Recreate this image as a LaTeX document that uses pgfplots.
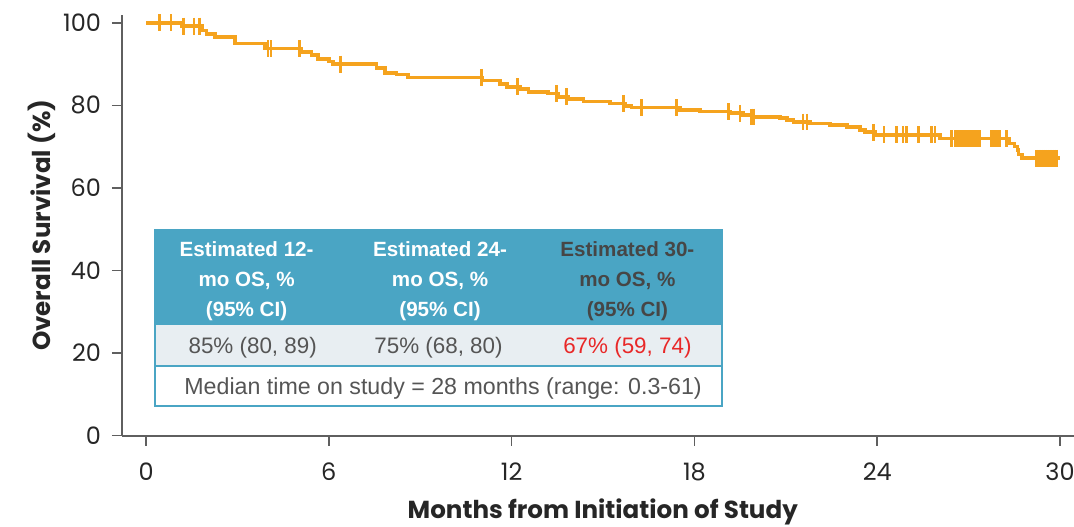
\documentclass[border=0pt]{standalone}
\usepackage{fontspec}
\setmainfont{Liberation Sans}
\newfontfamily\pop{Poppins}
\usepackage{pgfplots}
\pgfplotsset{compat=1.18}
\definecolor{km}{RGB}{245,163,30}
\definecolor{tblteal}{RGB}{74,165,196}
\definecolor{rowgray}{RGB}{232,238,242}
\definecolor{axgray}{RGB}{95,95,95}
\definecolor{redtxt}{RGB}{232,40,40}
\definecolor{hdrdark}{RGB}{70,70,70}
\definecolor{bodytxt}{RGB}{85,85,85}
\pgfplotstableread{
x y
0 100
1.17 99.2
1.83 98.1
1.99 97.3
2.26 96.6
2.92 95.0
3.91 93.8
5.10 93.0
5.43 92.2
5.64 91.2
6.00 90.6
6.14 90.0
7.57 89.0
7.84 87.9
8.22 87.5
8.60 86.8
11.05 86.0
11.62 85.2
11.84 84.5
12.28 83.9
12.55 83.3
13.20 82.9
13.54 82.1
13.86 81.5
14.36 80.9
15.23 80.5
15.72 79.9
15.94 79.5
17.53 78.9
18.19 78.5
19.16 78.1
19.60 77.7
19.87 77.2
20.81 76.9
21.03 76.5
21.25 76.0
21.80 75.6
22.45 75.2
23.00 74.7
23.44 74.0
23.60 73.5
23.92 72.9
26.06 72.0
28.34 70.8
28.50 70.0
28.60 69.2
28.64 68.1
28.75 67.2
30.00 67.2
}\kmcurve
\pgfplotstableread{
x y
0.44 100
0.82 100
1.22 99.2
1.58 99.2
1.75 99.2
4.00 93.8
4.10 93.8
5.03 93.8
6.39 90.0
11.02 86.8
12.19 84.5
13.48 82.9
13.81 82.1
15.67 80.5
16.27 79.5
17.42 79.5
19.11 78.5
19.49 78.1
19.88 77.2
19.95 77.2
21.57 76.0
21.70 76.0
23.87 73.5
24.22 72.9
24.64 72.9
24.85 72.9
24.97 72.9
25.35 72.9
25.79 72.9
25.90 72.9
26.44 72.0
26.55 72.0
26.61 72.0
26.67 72.0
26.73 72.0
26.79 72.0
26.85 72.0
26.91 72.0
26.97 72.0
27.03 72.0
27.09 72.0
27.15 72.0
27.21 72.0
27.27 72.0
27.33 72.0
27.37 72.0
27.75 72.0
27.82 72.0
27.89 72.0
27.96 72.0
28.03 72.0
28.25 72.0
29.23 67.2
29.29 67.2
29.35 67.2
29.41 67.2
29.47 67.2
29.53 67.2
29.59 67.2
29.65 67.2
29.71 67.2
29.77 67.2
29.83 67.2
29.89 67.2
}\kmcens
\begin{document}
\begin{tikzpicture}
\useasboundingbox (-61pt,-45.2pt) rectangle (476pt,217.8pt);
\begin{axis}[
  at={(0,0)}, anchor=south west,
  scale only axis, width=476pt, height=210.3pt,
  xmin=-0.79, xmax=30.46, ymin=0, ymax=101.9,
  clip=false,
  axis lines=left,
  axis line style={-, draw=axgray, line width=1pt},
  xtick={0,6,12,18,24,30},
  xticklabels={0,6,12,18,24,30},
  ytick={0,20,40,60,80,100},
  yticklabels={0,20,40,60,80,100},
  tick align=outside, major tick length=5pt,
  tick style={draw=axgray, line width=0.8pt},
  ticklabel style={font=\pop\fontsize{12}{13}\selectfont, text=black!85},
  xticklabel style={anchor=center, yshift=-13pt},
  yticklabel style={anchor=east, xshift=-2pt},
  xlabel={Months from Initiation of Study},
  ylabel={Overall Survival (\%)},
  xlabel style={font=\pop\bfseries\fontsize{12.3}{13}\selectfont, text=black!85, at={(axis description cs:0.505,-0.181)}, anchor=center},
  ylabel style={font=\pop\bfseries\fontsize{12.3}{13}\selectfont, text=black!85, at={(axis description cs:-0.084,0.5)}, anchor=center},
]
\addplot[const plot, km, line width=1.8pt] table[x=x,y=y] {\kmcurve};
\addplot[only marks, mark=|, mark size=4.2pt, km, mark options={line width=1.3pt}] table[x=x,y=y] {\kmcens};
\fill[tblteal] (axis cs:0.30,26.8) rectangle (axis cs:18.9,49.8);
\fill[rowgray] (axis cs:0.30,16.9) rectangle (axis cs:18.9,26.8);
\draw[tblteal, line width=0.9pt] (axis cs:0.30,7.2) rectangle (axis cs:18.9,49.8);
\draw[tblteal, line width=0.7pt] (axis cs:0.30,16.9) -- (axis cs:18.9,16.9);
\node[font=\bfseries\fontsize{10.3}{14.8}\selectfont, text=white, align=center] at (axis cs:3.3,37.4) {Estimated 12-\\mo OS, \%\\(95\% CI)};
\node[font=\bfseries\fontsize{10.3}{14.8}\selectfont, text=white, align=center] at (axis cs:9.65,37.4) {Estimated 24-\\mo OS, \%\\(95\% CI)};
\node[font=\bfseries\fontsize{10.3}{14.8}\selectfont, text=hdrdark, align=center] at (axis cs:15.8,37.4) {Estimated 30-\\mo OS, \%\\(95\% CI)};
\node[font=\fontsize{11.2}{13}\selectfont, text=bodytxt] at (axis cs:3.5,21.2) {85\% (80, 89)};
\node[font=\fontsize{11.2}{13}\selectfont, text=bodytxt] at (axis cs:9.6,21.2) {75\% (68, 80)};
\node[font=\fontsize{11.2}{13}\selectfont, text=redtxt] at (axis cs:15.8,21.2) {67\% (59, 74)};
\node[font=\fontsize{11.6}{13}\selectfont, text=bodytxt] at (axis cs:9.75,11.4) {Median time on study = 28 months (range: 0.3-61)};
\end{axis}
\end{tikzpicture}
\end{document}
